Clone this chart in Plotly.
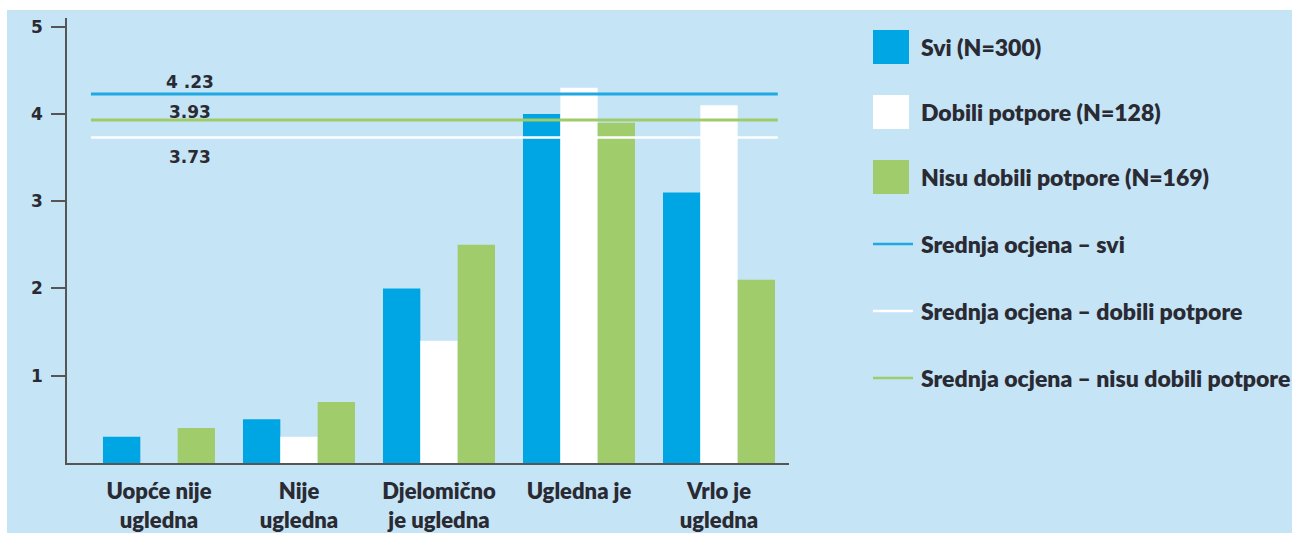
import plotly.graph_objects as go

kategorije = ["Uopće nije<br>ugledna", "Nije<br>ugledna", "Djelomično<br>je ugledna", "Ugledna je", "Vrlo je<br>ugledna"]
svi = [0.3, 0.5, 2.0, 4.0, 3.1]
dobili = [0.0, 0.3, 1.4, 4.3, 4.1]
nisu_dobili = [0.4, 0.7, 2.5, 3.9, 2.1]
serije = ["Svi (N=300)", "Dobili potpore (N=128)", "Nisu dobili potpore (N=169)"]
srednje = [4.23, 3.73, 3.93]
srednje_tekst = ["4 .23", "3.73", "3.93"]
srednje_nazivi = ["Srednja ocjena – svi", "Srednja ocjena – dobili potpore",
                  "Srednja ocjena – nisu dobili potpore"]
y_tickovi = [1, 2, 3, 4, 5]

plava = "#00A5E3"
bijela = "#FFFFFF"
zelena = "#A1CC6B"
pozadina = "#C5E4F6"
tekst = "#2A2A33"
boje_bar = [plava, bijela, zelena]
boje_lin = ["#1FA8E2", "#FFFFFF", "#9FCB6A"]

# plot area in pixels (1292x533 page)
L, R, T, B = 67, 789, 18, 463
W, H = R - L, B - T
def px(x):
    return (x - L) / W
def py(y):
    return (B - y) / H

x_pos = list(range(len(kategorije)))
granice = [i + 0.5 for i in x_pos]

fig = go.Figure()
for naziv, vrijednosti, boja in zip(serije, [svi, dobili, nisu_dobili], boje_bar):
    fig.add_trace(go.Bar(x=x_pos, y=vrijednosti, name=naziv, marker_color=boja,
                         marker_line_width=0, showlegend=False))

# horizontal mean lines, drawn over the bars
for vr, boja, sirina in zip(srednje, boje_lin, [3, 2.5, 3]):
    fig.add_trace(go.Scatter(x=[-0.486, 4.42], y=[vr, vr], mode="lines",
                             line=dict(color=boja, width=sirina), showlegend=False,
                             hoverinfo="skip"))

font_os = dict(family="Lato", size=22, color=tekst, weight=800)
font_broj = dict(family="DejaVu Sans", size=17, color=tekst, weight="bold")
fig.update_layout(
    width=1292, height=533,
    margin=dict(l=L, r=1292 - R, t=T, b=533 - B),
    paper_bgcolor="white", plot_bgcolor="rgba(0,0,0,0)",
    barmode="group", bargap=0.2, bargroupgap=0,
    xaxis=dict(range=[-0.657, 4.5], tickvals=x_pos, ticktext=kategorije, ticks="",
               tickfont=font_os, ticklabelstandoff=8, showgrid=False, zeroline=False,
               showline=True, linecolor="#555555", linewidth=1.5, automargin=False),
    xaxis2=dict(overlaying="x", matches="x", anchor="y", tickvals=granice, ticks="outside",
                ticklen=9, tickwidth=1.5, tickcolor="#555555", showticklabels=False,
                showgrid=False, zeroline=False, automargin=False),
    xaxis3=dict(overlaying="x", matches="x", anchor="y", tickvals=granice, ticks="inside",
                ticklen=11, tickwidth=1.5, tickcolor="#555555", showticklabels=False,
                showgrid=False, zeroline=False, automargin=False),
    yaxis=dict(range=[0, 5.1], tickvals=y_tickovi, ticks="outside", ticklen=14, tickwidth=1.5,
               tickcolor="#555555", tickfont=font_broj,
               ticklabelstandoff=5, showgrid=False, zeroline=False,
               showline=True, linecolor="#555555", linewidth=1.5, automargin=False),
    yaxis2=dict(overlaying="y", matches="y", anchor="x", tickvals=y_tickovi, ticks="inside",
                ticklen=14, tickwidth=1.5, tickcolor="#555555", showticklabels=False,
                showgrid=False, zeroline=False, automargin=False),
)

# light blue panel behind everything
fig.add_shape(type="rect", xref="paper", yref="paper", x0=px(7), x1=px(1300),
              y0=py(540), y1=py(10), fillcolor=pozadina, line_width=0, layer="below")

# mean labels
for vr, txt, pomak in zip(srednje, srednje_tekst, [12, -19, 8]):
    fig.add_annotation(x=0.22, y=vr, text=txt, showarrow=False, yshift=pomak, font=font_broj,
                       yanchor="middle")

# custom legend
font_leg = dict(family="Lato", size=23, color=tekst, weight=800)
leg_y = [47, 112, 177, 244, 311, 378]
for i, (naziv, boja) in enumerate(zip(serije, boje_bar)):
    yc = leg_y[i]
    fig.add_shape(type="rect", xref="paper", yref="paper", x0=px(873), x1=px(909),
                  y0=py(yc + 17), y1=py(yc - 17), fillcolor=boja, line_width=0)
    fig.add_annotation(xref="paper", yref="paper", x=px(919), y=py(yc), xanchor="left",
                       yanchor="middle", text=naziv, showarrow=False, font=font_leg)
for j, (naziv, boja) in enumerate(zip(srednje_nazivi, boje_lin)):
    yc = leg_y[3 + j]
    fig.add_shape(type="line", xref="paper", yref="paper", x0=px(873), x1=px(913),
                  y0=py(yc), y1=py(yc), line=dict(color=boja, width=2.5))
    fig.add_annotation(xref="paper", yref="paper", x=px(919), y=py(yc), xanchor="left",
                       yanchor="middle", text=naziv, showarrow=False, font=font_leg)

fig.write_html("out.html", config={"displayModeBar": False},
               post_script="document.body.style.margin='0px';")
